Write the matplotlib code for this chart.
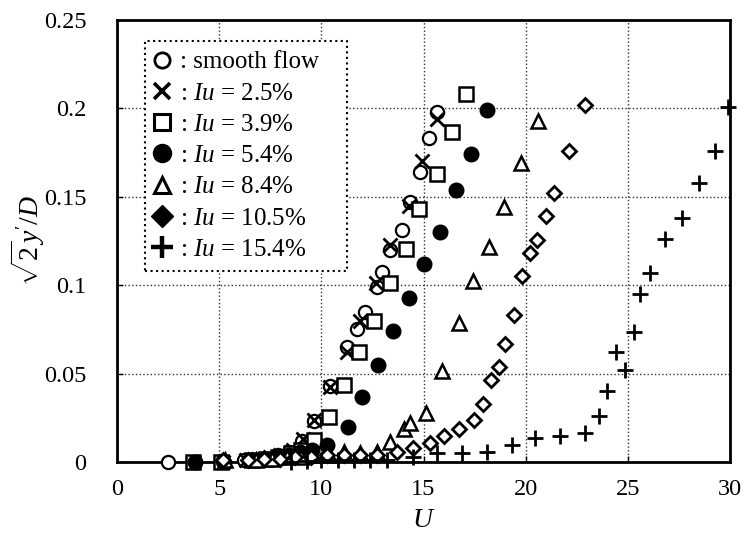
import matplotlib
matplotlib.use("Agg")
import matplotlib.pyplot as plt
from matplotlib.lines import Line2D

plt.rcParams['font.family'] = ['Liberation Serif', 'DejaVu Serif']
plt.rcParams['mathtext.fontset'] = 'custom'
plt.rcParams['mathtext.rm'] = 'Liberation Serif'
plt.rcParams['mathtext.it'] = 'Liberation Serif:italic'
plt.rcParams['mathtext.bf'] = 'Liberation Serif:bold'

# ---- data ----
smooth_U = [2.5, 6.2, 6.8, 7.4, 7.9, 8.4, 9.05, 9.62, 10.44, 11.26, 11.75, 12.16, 12.73, 12.97, 13.38, 13.95, 14.36, 14.85, 15.26, 15.67]
smooth_v = [0.0, 0.001, 0.001, 0.002, 0.004, 0.006, 0.012, 0.023, 0.043, 0.065, 0.0755, 0.085, 0.099, 0.1075, 0.120, 0.131, 0.147, 0.164, 0.183, 0.198]

iu25_U = [3.7, 5.2, 6.3, 6.9, 7.5, 8.0, 8.6, 9.1, 9.62, 10.44, 11.26, 11.91, 12.65, 13.38, 14.28, 14.93, 15.67]
iu25_v = [0.0, 0.0, 0.001, 0.002, 0.003, 0.004, 0.007, 0.013, 0.024, 0.0425, 0.062, 0.080, 0.101, 0.1226, 0.145, 0.170, 0.194]

iu39_U = [3.7, 5.1, 6.6, 7.3, 7.9, 8.5, 9.0, 9.62, 10.36, 11.1, 11.83, 12.57, 13.38, 14.12, 14.77, 15.67, 16.4, 17.06]
iu39_v = [0.0, 0.0, 0.001, 0.002, 0.003, 0.005, 0.007, 0.0124, 0.0256, 0.0435, 0.0623, 0.080, 0.101, 0.1207, 0.143, 0.163, 0.1866, 0.208]

iu54_U = [3.8, 5.2, 6.5, 7.2, 7.8, 8.4, 8.97, 9.54, 10.28, 11.29, 11.99, 12.78, 13.5, 14.28, 15.0, 15.83, 16.58, 17.33, 18.09]
iu54_v = [0.0, 0.0005, 0.001, 0.002, 0.003, 0.004, 0.006, 0.0068, 0.0096, 0.0196, 0.037, 0.055, 0.074, 0.093, 0.112, 0.130, 0.154, 0.174, 0.199]

iu84_U = [5.3, 6.8, 7.6, 8.3, 9.0, 9.6, 10.36, 11.1, 11.9, 12.7, 13.35, 14.04, 14.36, 15.1, 15.9, 16.73, 17.43, 18.2, 18.94, 19.77, 20.6]
iu84_v = [0.001, 0.001, 0.002, 0.003, 0.003, 0.004, 0.004, 0.0058, 0.0053, 0.0058, 0.0115, 0.019, 0.0219, 0.0277, 0.0516, 0.0787, 0.1025, 0.1216, 0.144, 0.169, 0.193]

iu105_U = [5.2, 6.4, 7.2, 8.0, 8.7, 9.5, 10.3, 11.1, 11.9, 12.7, 13.7, 14.47, 15.31, 15.98, 16.75, 17.47, 17.9, 18.28, 18.7, 19.0, 19.43, 19.8, 20.2, 20.54, 21.0, 21.39, 22.1, 22.92]
iu105_v = [0.001, 0.001, 0.002, 0.002, 0.003, 0.003, 0.004, 0.004, 0.004, 0.004, 0.0055, 0.0082, 0.0106, 0.0148, 0.019, 0.024, 0.0327, 0.0463, 0.054, 0.0667, 0.083, 0.105, 0.1183, 0.1254, 0.139, 0.152, 0.176, 0.2017]

iu154_U = [8.5, 9.3, 10.0, 10.8, 11.6, 12.4, 13.2, 14.5, 15.67, 16.9, 18.12, 19.35, 20.46, 21.68, 22.9, 23.6, 24.0, 24.85, 24.41, 25.31, 25.6, 26.08, 26.81, 27.65, 28.5, 29.24, 29.9]
iu154_v = [0.0, 0.0005, 0.001, 0.001, 0.001, 0.001, 0.001, 0.003, 0.0049, 0.005, 0.0058, 0.0096, 0.0137, 0.0147, 0.0166, 0.026, 0.0403, 0.052, 0.0623, 0.0733, 0.0949, 0.107, 0.126, 0.138, 0.158, 0.176, 0.201]

labels = [": smooth flow   ", r": $Iu$ = 2.5%", r": $Iu$ = 3.9%", r": $Iu$ = 5.4%",
          r": $Iu$ = 8.4%", r": $Iu$ = 10.5%", r": $Iu$ = 15.4%"]
xticks = [0, 5, 10, 15, 20, 25, 30]
yticks = [0, 0.05, 0.1, 0.15, 0.2, 0.25]
yticklabels = ["0", "0.05", "0.1", "0.15", "0.2", "0.25"]

series = [
    (smooth_U, smooth_v, dict(marker='o', ms=9.5, mfc='white', mec='black', mew=1.6)),
    (iu25_U, iu25_v, dict(marker='x', ms=10, mec='black', mew=2.0)),
    (iu39_U, iu39_v, dict(marker='s', ms=9.5, mfc='white', mec='black', mew=1.8)),
    (iu54_U, iu54_v, dict(marker='o', ms=10.5, mfc='black', mec='black', mew=1.0)),
    (iu84_U, iu84_v, dict(marker='^', ms=10, mfc='white', mec='black', mew=1.8)),
    (iu105_U, iu105_v, dict(marker='D', ms=7.5, mfc='white', mec='black', mew=2.0)),
    (iu154_U, iu154_v, dict(marker='+', ms=11, mec='black', mew=2.0)),
]
legend_styles = [
    dict(marker='o', ms=11, mfc='white', mec='black', mew=2.0),
    dict(marker='x', ms=12, mec='black', mew=2.6),
    dict(marker='s', ms=11, mfc='white', mec='black', mew=2.2),
    dict(marker='o', ms=13, mfc='black', mec='black', mew=1.0),
    dict(marker='^', ms=12, mfc='white', mec='black', mew=2.2),
    dict(marker='D', ms=11, mfc='black', mec='black', mew=1.0),
    dict(marker='+', ms=16, mec='black', mew=3.2),
]

fig = plt.figure(figsize=(7.45, 5.33), dpi=100)
ax = fig.add_axes([0.157, 0.133, 0.823, 0.8295])

for U, v, st in series:
    ax.plot(U, v, linestyle='none', zorder=3, clip_on=False, **st)

ax.set_xlim(0, 30)
ax.set_ylim(0, 0.25)
ax.set_xticks(xticks)
ax.set_xticklabels([str(t) for t in xticks])
ax.set_yticks(yticks)
ax.set_yticklabels(yticklabels)
ax.tick_params(axis='both', direction='in', length=4, width=1, labelsize=17.5, colors='black')
ax.tick_params(axis='y', pad=22)
ax.tick_params(axis='x', pad=12)
ax.grid(True, linestyle=':', color='#333333', linewidth=1.0)
ax.set_axisbelow(True)
for s in ax.spines.values():
    s.set_linewidth(2.0)
    s.set_color('black')

ax.set_xlabel(r"$U$", fontsize=20, labelpad=6)
ax.set_ylabel(r"$\sqrt{2}y'/D$", fontsize=20, labelpad=-2)

handles = [Line2D([], [], linestyle='none', **st) for st in legend_styles]
leg = ax.legend(handles, labels, loc='upper left', bbox_to_anchor=(0.045, 0.953),
                borderaxespad=0, fontsize=18, handlelength=0.6, handletextpad=0.4,
                labelspacing=0.35, borderpad=0.4, fancybox=False, framealpha=1,
                edgecolor='black')
leg.get_frame().set_linestyle(':')
leg.get_frame().set_linewidth(1.5)
leg.set_zorder(5)

fig.savefig("out.png", dpi=100)
